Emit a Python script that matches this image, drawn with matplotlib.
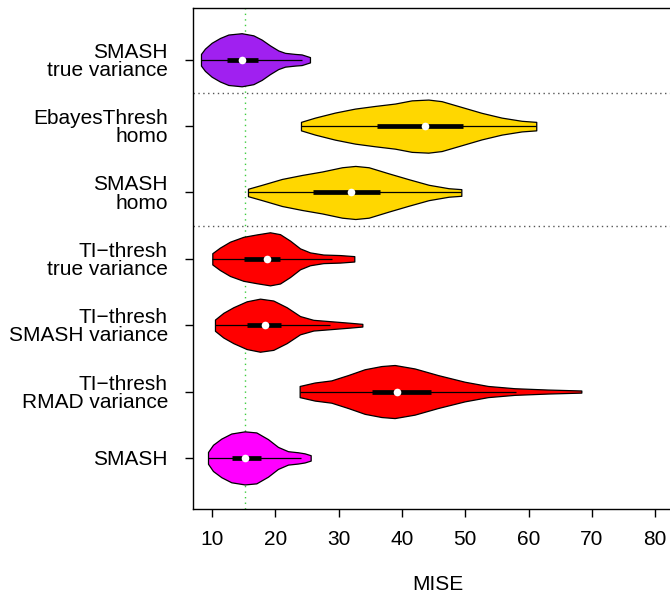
import matplotlib
matplotlib.use("Agg")
import matplotlib.pyplot as plt
import numpy as np

plt.rcParams['font.family'] = ['Liberation Sans', 'DejaVu Sans']

# bottom to top
labels = ["SMASH", "TI\u2212thresh\nRMAD variance", "TI\u2212thresh\nSMASH variance",
          "TI\u2212thresh\ntrue variance", "SMASH\nhomo", "EbayesThresh\nhomo",
          "SMASH\ntrue variance"]
colors = ["#FF00FF", "#FF0000", "#FF0000", "#FF0000", "#FFD700", "#FFD700", "#A020F0"]

# density outlines (MISE grid, relative density)
grid = [
    [9.37, 10.16, 11.47, 13.05, 15.16, 17.0, 18.84, 20.42, 22.0, 23.58, 24.63, 25.58],
    [23.84, 26.21, 28.84, 31.47, 34.11, 36.74, 38.84, 42.0, 45.69, 49.9, 53.58, 57.79, 63.06, 68.32],
    [10.47, 11.79, 13.37, 15.47, 17.58, 19.68, 21.79, 23.9, 26.0, 29.16, 31.79, 33.74],
    [10.05, 11.26, 12.84, 14.95, 17.05, 19.16, 20.74, 22.32, 23.9, 25.47, 27.58, 30.21, 32.47],
    [15.68, 17.9, 21.05, 24.21, 27.37, 30.53, 32.63, 34.74, 37.9, 41.05, 44.21, 47.37, 49.37],
    [24.05, 26.26, 29.42, 32.58, 35.74, 38.9, 41.53, 44.16, 46.26, 49.42, 52.58, 55.74, 58.9, 61.2],
    [8.26, 8.89, 9.95, 11.26, 12.58, 14.68, 16.53, 17.84, 19.16, 20.47, 21.53, 23.1, 24.16, 25.47],
]
dens = [
    [0.22, 0.49, 0.72, 0.91, 0.99, 0.95, 0.7, 0.41, 0.25, 0.21, 0.17, 0.1],
    [0.21, 0.34, 0.42, 0.62, 0.84, 0.96, 1.0, 0.87, 0.62, 0.37, 0.21, 0.125, 0.075, 0.04],
    [0.21, 0.46, 0.67, 0.89, 0.99, 0.92, 0.67, 0.34, 0.2, 0.14, 0.09, 0.05],
    [0.21, 0.42, 0.64, 0.82, 0.91, 0.99, 0.92, 0.68, 0.39, 0.24, 0.16, 0.14, 0.1],
    [0.14, 0.29, 0.51, 0.66, 0.79, 0.95, 1.0, 0.95, 0.72, 0.5, 0.29, 0.16, 0.125],
    [0.16, 0.32, 0.51, 0.66, 0.76, 0.85, 0.97, 1.0, 0.94, 0.72, 0.5, 0.32, 0.2, 0.16],
    [0.22, 0.42, 0.64, 0.82, 0.95, 1.0, 0.92, 0.76, 0.54, 0.35, 0.26, 0.22, 0.2, 0.1],
]
q1 = [13.16, 35.26, 15.58, 15.1, 25.95, 36.0, 12.32]
med = [15.26, 39.26, 18.37, 18.63, 31.95, 43.63, 14.68]
q3 = [17.69, 44.53, 20.84, 20.74, 36.58, 49.7, 17.21]
whisk_lo = [9.37, 23.84, 10.47, 10.05, 15.68, 24.05, 8.26]
whisk_hi = [24.1, 58.05, 28.63, 28.9, 49.37, 61.2, 24.16]

ref_line = 15.25
xticks = [10, 20, 30, 40, 50, 60, 70, 80]

fig = plt.figure(figsize=(6.7, 5.99), dpi=100)
ax = fig.add_axes([193 / 670, 90 / 599, 1.02 - 193 / 670, 501 / 599])

pos = np.arange(1, len(labels) + 1)

for y in [4.5, 6.5]:
    ax.axhline(y, color="#555555", linestyle=(0, (1, 2.5)), linewidth=1, zorder=0)
ax.axvline(ref_line, color="#3DCC3D", linestyle=(0, (1, 3)), linewidth=1, zorder=1)

stats = []
for i in range(len(labels)):
    stats.append({"coords": np.array(grid[i]), "vals": np.array(dens[i]),
                  "mean": med[i], "median": med[i],
                  "min": grid[i][0], "max": grid[i][-1]})
parts = ax.violin(stats, positions=pos, orientation="horizontal", widths=0.8,
                  showmeans=False, showextrema=False, showmedians=False)
for body, c in zip(parts["bodies"], colors):
    body.set_facecolor(c)
    body.set_edgecolor("black")
    body.set_alpha(1)
    body.set_linewidth(0.9)
    body.set_joinstyle("round")
    body.set_zorder(2)

ax.hlines(pos, whisk_lo, whisk_hi, color="black", linewidth=0.9, zorder=3)
ax.hlines(pos, q1, q3, color="black", linewidth=3.4, zorder=3)
ax.plot(med, pos, "o", color="white", markersize=5.5, markeredgewidth=0, zorder=4)

ax.set_xlim(7.0, 7.0 + (1.02 * 670 - 193) / 6.333)
ax.set_ylim(0.23, 7.78)
ax.set_xticks(xticks)
ax.set_yticks(pos)
ax.set_yticklabels(labels, fontsize=15, linespacing=0.95)
ax.tick_params(axis="x", labelsize=15, length=6, width=1, pad=9)
ax.tick_params(axis="y", length=6, width=1, pad=12)
ax.set_xlabel("MISE", fontsize=15, labelpad=19)
for s in ax.spines.values():
    s.set_linewidth(1)

fig.savefig("out.png", dpi=100)
